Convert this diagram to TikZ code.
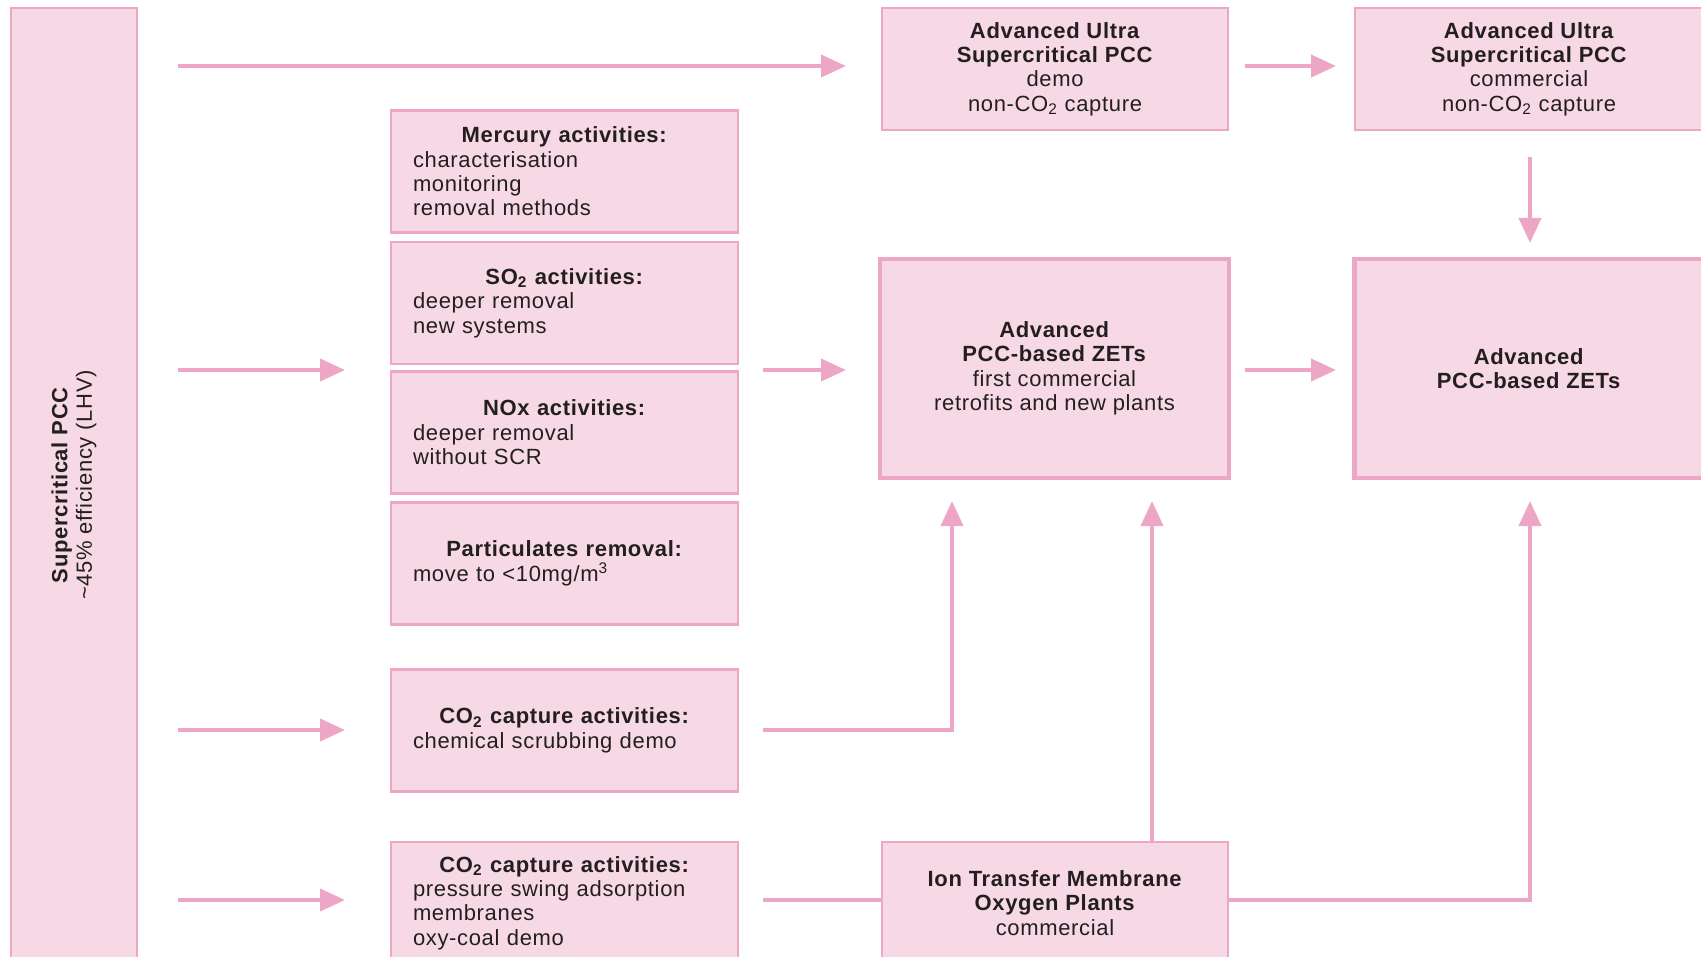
\documentclass[tikz,border=0pt]{standalone}
\usepackage{fontspec}
\setmainfont{Liberation Sans}[LetterSpace=3]
\usetikzlibrary{arrows.meta}
\definecolor{pinkfill}{RGB}{247,217,230}
\definecolor{pinkline}{RGB}{238,166,199}
\definecolor{txt}{RGB}{35,31,32}
\newcommand{\boxfont}{\fontsize{11}{12.2}\selectfont}
\begin{document}
\begin{tikzpicture}[x=0.5pt,y=-0.5pt,
  box/.style={draw=pinkline, fill=pinkfill, line width=1.2pt, inner sep=0pt, text=txt, font=\boxfont},
  act/.style={box, minimum width=173.5pt, minimum height=61pt, text width=151.5pt, align=left},
  big/.style={box, line width=2.2pt, minimum width=174.5pt, minimum height=109.5pt, align=center},
  top/.style={box, minimum width=173pt, minimum height=61pt, align=center},
  arr/.style={draw=pinkline, line width=2pt, -{Triangle[length=12.5pt,width=11pt]}},
  conn/.style={draw=pinkline, line width=2pt}]
\clip (0,0) rectangle (1701,957);

% left tall box
\node[box, rotate=90, minimum width=477pt, minimum height=63pt, align=center] (sc) at (74,485)
  {\textbf{Supercritical PCC}\\\textasciitilde45\% efficiency (LHV)};

% top row
\node[top] (demo) at (1055,69)
  {\textbf{Advanced Ultra}\\\textbf{Supercritical PCC}\\demo\\non-CO\textsubscript{2} capture};
\node[top, minimum width=174pt] (comm) at (1529,69)
  {\textbf{Advanced Ultra}\\\textbf{Supercritical PCC}\\commercial\\non-CO\textsubscript{2} capture};

% activity boxes
\node[act] (hg) at (564.5,171.5)
  {\centering\textbf{Mercury activities:}\par\raggedright characterisation\\monitoring\\removal methods};
\node[act] (so2) at (564.5,303)
  {\centering\textbf{SO\textsubscript{2} activities:}\par\raggedright deeper removal\\new systems};
\node[act] (nox) at (564.5,432.5)
  {\centering\textbf{NOx activities:}\par\raggedright deeper removal\\without SCR};
\node[act] (part) at (564.5,563.5)
  {\centering\textbf{Particulates removal:}\par\raggedright move to <10mg/m\textsuperscript{3}};
\node[act] (chem) at (564.5,730.5)
  {\centering\textbf{CO\textsubscript{2} capture activities:}\par\raggedright chemical scrubbing demo};
\node[act] (psa) at (564.5,903)
  {\centering\textbf{CO\textsubscript{2} capture activities:}\par\raggedright pressure swing adsorption\\membranes\\oxy-coal demo};

% ZET boxes
\node[big] (zet1) at (1054.5,368.5)
  {\textbf{Advanced}\\\textbf{PCC-based ZETs}\\first commercial\\retrofits and new plants};
\node[big] (zet2) at (1529,368.5)
  {\textbf{Advanced}\\\textbf{PCC-based ZETs}};

% ITM box
\node[top] (itm) at (1055,903)
  {\textbf{Ion Transfer Membrane}\\\textbf{Oxygen Plants}\\commercial};

% free arrow ends
\coordinate (s1) at (178,66);   \coordinate (e1) at (846,66);
\coordinate (s2) at (178,370);  \coordinate (e2) at (345,370);
\coordinate (s3) at (178,730);  \coordinate (e3) at (345,730);
\coordinate (s4) at (178,900);  \coordinate (e4) at (345,900);
\coordinate (s5) at (763,370);  \coordinate (e5) at (846,370);
\coordinate (s6) at (1245,66);  \coordinate (e6) at (1336,66);
\coordinate (s7) at (1245,370); \coordinate (e7) at (1336,370);
\coordinate (s8) at (1530,157); \coordinate (e8) at (1530,243);
\coordinate (c1) at (763,730);  \coordinate (t1) at (952,501);
\coordinate (c2) at (763,900);
\coordinate (t2) at (1152,501);
\coordinate (t3) at (1530,501);

\draw[arr] (s1) -- (e1);
\draw[arr] (s2) -- (e2);
\draw[arr] (s3) -- (e3);
\draw[arr] (s4) -- (e4);
\draw[arr] (s5) -- (e5);
\draw[arr] (s6) -- (e6);
\draw[arr] (s7) -- (e7);
\draw[arr] (s8) -- (e8);
\draw[arr] (c1) -| (t1);
\draw[conn] (c2) -- (c2 -| itm.west);
\draw[arr] (itm.north -| t2) -- (t2);
\draw[arr] (c2 -| itm.east) -| (t3);
\end{tikzpicture}
\end{document}
